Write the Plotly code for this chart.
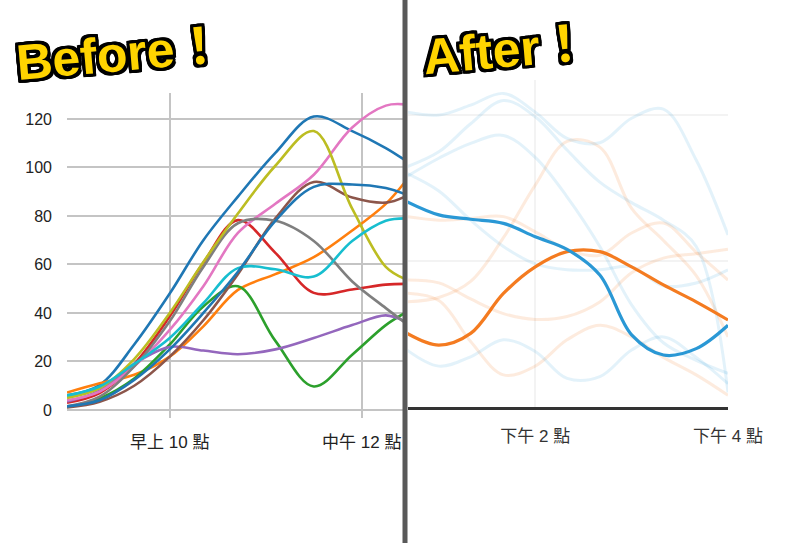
import plotly.graph_objects as go

W, H = 810, 543


def fx(p):
    return p / W


def fy(p):
    return 1 - p / H


# ---------------- "Before" chart data (hours, values) ----------------
before_times = [8.93, 9.27, 9.63, 10.0, 10.35, 10.71, 11.1, 11.5, 11.9, 12.25, 12.45]
before_tickvals = [10, 12]
before_ticktext = ["早上 10 點", "中午 12 點"]
before_yticks = [0, 20, 40, 60, 80, 100, 120]

s_blue1 = [6, 10.3, 27, 48, 70, 88, 106, 121, 115, 108, 103]
s_orange = [7.2, 11, 14.5, 22, 34.5, 49.5, 56, 63, 74, 85, 94]
s_green = [1.2, 4.8, 13, 27, 42.7, 51, 28.5, 9.7, 22.8, 35, 40]
s_red = [3, 7, 19, 38.6, 60.7, 78.3, 64.8, 48.3, 49.7, 51.7, 52]
s_purple = [3.5, 8, 19, 26, 24.5, 23, 25, 29.7, 35, 39, 36.5]
s_brown = [1, 3.4, 10, 22, 37, 56, 79, 94, 87.6, 85.5, 88]
s_pink = [4, 7.6, 18, 33, 51, 73, 85, 97, 116.5, 125.5, 126]
s_gray = [1.5, 5.5, 18, 36.6, 59, 77, 78, 69.7, 53, 42, 36]
s_olive = [5, 9, 21, 40, 61, 81, 100.7, 115, 83, 59, 54]
s_cyan = [6, 9.7, 19, 29.7, 44, 58.5, 58, 55, 69.7, 78, 79]
s_blue2 = [1.5, 4, 12.4, 25, 40, 57, 78, 92, 93, 91.5, 89]

before_series = [s_blue1, s_orange, s_green, s_red, s_purple, s_brown,
                 s_pink, s_gray, s_olive, s_cyan, s_blue2]
before_colors = ["#1f77b4", "#ff7f0e", "#2ca02c", "#d62728", "#9467bd", "#8c564b",
                 "#e377c2", "#7f7f7f", "#bcbd22", "#17becf", "#1f77b4"]

# ---------------- "After" chart data ----------------
after_times = [12.67, 13.0, 13.33, 13.67, 14.0, 14.33, 14.67, 15.0, 15.33, 15.67, 16.0]
after_tickvals = [14, 16]
after_ticktext = ["下午 2 點", "下午 4 點"]

hl_blue = [70.3, 65.8, 64.3, 62.9, 58.3, 54, 45.2, 24.7, 17.8, 20, 28]
hl_orange = [25.2, 21.2, 25.2, 38.9, 48, 53.2, 53.2, 48, 41.8, 36, 29.8]

fb1 = [101, 100, 103.4, 107.4, 101, 92, 90.5, 98.9, 102, 84.6, 58.9]
fb2 = [82.3, 87.4, 97, 105, 99.4, 88, 77, 70, 64, 55, 5]
fb3 = [79, 85.2, 90.3, 93, 85.5, 72, 55, 35, 22, 16, 11.5]
fb4 = [80, 74, 64, 55, 49, 47, 47, 48, 41.5, 42.5, 47]
fb5 = [19.5, 14, 17.2, 23, 19, 9.8, 10.4, 19.5, 24, 17, 8]

fo1 = [65.2, 64, 64.6, 65.2, 60, 54, 52, 59.6, 63, 53, 43.5]
fo2 = [43.5, 42.5, 37, 32, 30, 31, 36, 46, 51, 52.5, 54]
fo3 = [36, 37.5, 43, 58, 76, 91, 89, 68, 57, 45, 24]
fo4 = [39, 36.5, 22.4, 11, 14, 23, 28, 24, 17, 11, 4]

faint_blue = [fb1, fb2, fb3, fb4, fb5]
faint_orange = [fo1, fo2, fo3, fo4]

BLUE = "rgb(42,152,213)"
ORANGE = "rgb(244,123,32)"
FAINT_BLUE = "rgba(42,152,213,0.13)"
FAINT_ORANGE = "rgba(244,123,32,0.15)"

fig = go.Figure()

for vals, col in zip(before_series, before_colors):
    fig.add_trace(go.Scatter(x=before_times, y=vals, mode="lines",
                             line=dict(color=col, width=2.6, shape="spline", smoothing=1.0),
                             xaxis="x", yaxis="y", hoverinfo="skip"))

for vals in faint_orange:
    fig.add_trace(go.Scatter(x=after_times, y=vals, mode="lines",
                             line=dict(color=FAINT_ORANGE, width=3, shape="spline", smoothing=1.0),
                             xaxis="x2", yaxis="y2", hoverinfo="skip"))
for vals in faint_blue:
    fig.add_trace(go.Scatter(x=after_times, y=vals, mode="lines",
                             line=dict(color=FAINT_BLUE, width=3, shape="spline", smoothing=1.0),
                             xaxis="x2", yaxis="y2", hoverinfo="skip"))

fig.add_trace(go.Scatter(x=after_times, y=hl_orange, mode="lines",
                         line=dict(color=ORANGE, width=3.2, shape="spline", smoothing=1.0),
                         xaxis="x2", yaxis="y2", hoverinfo="skip"))
fig.add_trace(go.Scatter(x=after_times, y=hl_blue, mode="lines",
                         line=dict(color=BLUE, width=3.2, shape="spline", smoothing=1.0),
                         xaxis="x2", yaxis="y2", hoverinfo="skip"))

label_font = dict(family="Liberation Sans, Arial, Noto Sans CJK TC", size=17, color="#222")

outline = ", ".join(f"{dx}px {dy}px 0 #000" for dx, dy in
                    [(-3, -3), (3, -3), (-3, 3), (3, 3), (0, 3), (0, -3), (3, 0), (-3, 0),
                     (-2, 3), (2, 3), (3, 2), (3, -2), (-3, 2), (-3, -2), (2, -3), (-2, -3)])
title_font = dict(family="Liberation Sans, Arial, Noto Sans CJK TC",
                  size=50, color="#ffd400", weight="bold", shadow=outline)

fig.update_layout(
    template="none",
    width=W, height=H, autosize=False,
    margin=dict(l=0, r=0, t=0, b=0, pad=0),
    paper_bgcolor="white", plot_bgcolor="white",
    showlegend=False,
    xaxis=dict(domain=[fx(67), fx(405)], range=[8.93, 12.45], anchor="y",
               tickvals=before_tickvals, ticktext=before_ticktext,
               showgrid=True, gridcolor="#c4c4c4", gridwidth=1.6,
               zeroline=False, showline=False, ticks="", automargin=False,
               tickfont=label_font, ticklabelstandoff=12),
    yaxis=dict(domain=[fy(418), fy(93)], range=[-3.3, 130.7], anchor="x",
               tickvals=before_yticks,
               showgrid=True, gridcolor="#c4c4c4", gridwidth=1.6,
               zeroline=False, showline=False, ticks="", automargin=False,
               tickfont=dict(family="Liberation Sans, Arial", size=16, color="#222"),
               ticklabelstandoff=14),
    xaxis2=dict(domain=[fx(408), fx(728)], range=[12.68, 16.0], anchor="y2",
                tickvals=after_tickvals, ticktext=after_ticktext,
                showgrid=True, gridcolor="#f3f3f3", gridwidth=1.5,
                zeroline=False, showline=True, linecolor="#333", linewidth=2.6,
                ticks="", automargin=False,
                tickfont=dict(label_font, color="#333"), ticklabelstandoff=12),
    yaxis2=dict(domain=[fy(407), fy(80)], range=[0, 112], anchor="x2",
                tickvals=[50, 100], showticklabels=False,
                showgrid=True, gridcolor="#f3f3f3", gridwidth=1.5,
                zeroline=False, showline=False, ticks="", automargin=False),
    shapes=[dict(type="rect", xref="paper", yref="paper",
                 x0=fx(402.5), x1=fx(407.5), y0=0, y1=1,
                 fillcolor="#595959", line=dict(width=0), layer="above")],
    annotations=[
        dict(text="Before！", xref="paper", yref="paper", x=fx(120), y=fy(54),
             xanchor="center", yanchor="middle", showarrow=False, textangle=-5,
             font=title_font),
        dict(text="After！", xref="paper", yref="paper", x=fx(506), y=fy(50),
             xanchor="center", yanchor="middle", showarrow=False, textangle=-5,
             font=title_font),
    ],
)

post = ("document.documentElement.style.margin='0';"
        "document.documentElement.style.padding='0';"
        "document.documentElement.style.overflow='hidden';"
        "document.body.style.margin='0';"
        "document.body.style.padding='0';"
        "document.body.style.overflow='hidden';"
        "var gd=document.getElementById('{plot_id}');"
        "Plotly.relayout(gd,{width:810,height:543});")

fig.write_html("out.html", config={"responsive": False, "displayModeBar": False},
               post_script=post)
